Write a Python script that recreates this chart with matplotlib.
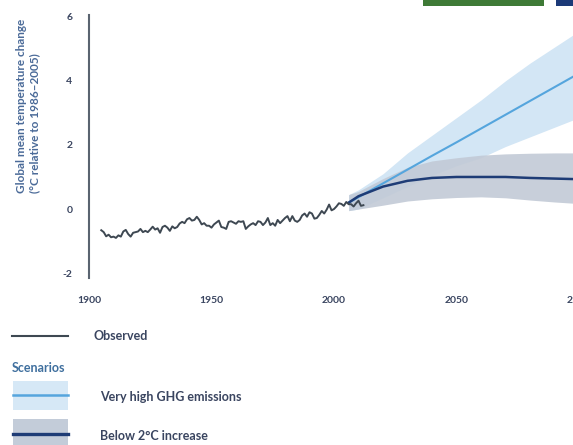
import numpy as np
import matplotlib.pyplot as plt
from matplotlib.patches import Rectangle

# observed annual anomalies (deg C relative to 1986-2005)
obs_years = np.arange(1905, 2013)
obs_vals = [-0.66, -0.72, -0.85, -0.80, -0.88, -0.86, -0.90, -0.82, -0.86, -0.70,
            -0.65, -0.78, -0.86, -0.74, -0.72, -0.70, -0.62, -0.72, -0.68, -0.72,
            -0.64, -0.55, -0.64, -0.60, -0.74, -0.56, -0.52, -0.58, -0.68, -0.54,
            -0.60, -0.56, -0.45, -0.40, -0.44, -0.32, -0.28, -0.36, -0.34, -0.24,
            -0.34, -0.48, -0.44, -0.52, -0.52, -0.58, -0.48, -0.42, -0.36, -0.56,
            -0.58, -0.62, -0.40, -0.38, -0.42, -0.46, -0.38, -0.40, -0.38, -0.62,
            -0.54, -0.48, -0.44, -0.50, -0.38, -0.40, -0.50, -0.42, -0.28, -0.50,
            -0.44, -0.52, -0.34, -0.44, -0.36, -0.28, -0.22, -0.38, -0.22, -0.36,
            -0.40, -0.34, -0.20, -0.14, -0.24, -0.10, -0.14, -0.30, -0.28, -0.18,
            -0.06, -0.14, -0.02, 0.14, -0.04, 0.00, 0.08, 0.18, 0.16, 0.10,
            0.22, 0.15, 0.15, 0.08, 0.18, 0.26, 0.10, 0.12]

# scenario projections
proj_years = [2006, 2010, 2020, 2030, 2040, 2050, 2060, 2070, 2080, 2090, 2100]
high_mean = [0.20, 0.37, 0.80, 1.23, 1.66, 2.08, 2.51, 2.94, 3.37, 3.80, 4.23]
high_upper = [0.45, 0.60, 1.10, 1.75, 2.30, 2.85, 3.40, 4.00, 4.55, 5.05, 5.55]
high_lower = [-0.05, 0.00, 0.35, 0.70, 1.05, 1.35, 1.60, 1.95, 2.25, 2.55, 2.85]
low_mean = [0.20, 0.40, 0.70, 0.88, 0.97, 1.00, 1.00, 1.00, 0.97, 0.95, 0.93]
low_upper = [0.45, 0.55, 0.95, 1.30, 1.50, 1.60, 1.68, 1.72, 1.74, 1.75, 1.75]
low_lower = [-0.05, 0.00, 0.12, 0.25, 0.32, 0.36, 0.38, 0.35, 0.28, 0.22, 0.17]

x_ticks = [1900, 1950, 2000, 2050, 2100]
y_ticks = [-2, 0, 2, 4, 6]

txt_col = '#3a4560'
plt.rcParams['font.family'] = ['Lato', 'DejaVu Sans']
plt.rcParams['axes.unicode_minus'] = False

W, H = 573, 445
fig = plt.figure(figsize=(W / 100, H / 100), dpi=100)

# overlay axes in pixel coords for legend and header boxes
lg = fig.add_axes([0, 0, 1, 1])
lg.set_xlim(0, W)
lg.set_ylim(H, 0)
lg.axis('off')

ax = fig.add_axes([89 / W, 1 - 278 / H, (579 - 89) / W, 263 / H])
ax.set_xlim(1900, 2100)
ax.set_ylim(-2.15, 6.05)

ax.fill_between(proj_years, high_lower, high_upper, color='#d3e6f5', lw=0, zorder=1)
ax.fill_between(proj_years, low_lower, low_upper, color='#c2cad6', alpha=0.9, lw=0, zorder=2)
ax.plot(proj_years, high_mean, color='#55a5dd', lw=1.5, zorder=3)
ax.plot(proj_years, low_mean, color='#1e3c76', lw=1.8, zorder=4)
ax.plot(obs_years, obs_vals, color='#3e4852', lw=1.4, zorder=5)

for s in ['top', 'right', 'bottom']:
    ax.spines[s].set_visible(False)
ax.spines['left'].set_color('#5a6470')
ax.spines['left'].set_linewidth(1.5)
ax.set_xticks(x_ticks)
ax.set_yticks(y_ticks)
ax.tick_params(axis='both', length=0, colors=txt_col, labelsize=7.5)
ax.tick_params(axis='x', pad=13)
ax.tick_params(axis='y', pad=12)
for lab in ax.get_xticklabels() + ax.get_yticklabels():
    lab.set_fontweight('bold')

fig.text(28 / W, 1 - 193 / H,
         'Global mean temperature change\n(°C relative to 1986–2005)',
         rotation=90, ha='center', va='bottom', multialignment='left',
         fontsize=8.5, color='#4a6a98', fontweight='bold', linespacing=1.2)

# header boxes cut off at top
lg.add_patch(Rectangle((423, -2), 121, 8, fc='#3e7a36', ec='none'))
lg.add_patch(Rectangle((556, -2), 20, 8, fc='#1c3a78', ec='none'))

# legend
lg.plot([12, 68], [336, 336], color='#3e4852', lw=1.5)
lg.text(93, 336, 'Observed', fontsize=9, color=txt_col, va='center', fontweight='bold')
lg.text(12, 368, 'Scenarios', fontsize=9, color='#3f6f9e', va='center', fontweight='bold')
lg.add_patch(Rectangle((13, 381), 55, 29, fc='#d6e8f6', ec='none'))
lg.plot([13, 68], [395, 395], color='#55a5dd', lw=1.8)
lg.text(100, 397, 'Very high GHG emissions', fontsize=9, color=txt_col, va='center',
        fontweight='bold')
lg.add_patch(Rectangle((13, 419), 55, 40, fc='#c3ccd9', ec='none'))
lg.plot([13, 68], [434, 434], color='#1e3c76', lw=2.4)
lg.text(100, 436, 'Below 2°C increase', fontsize=9, color=txt_col, va='center',
        fontweight='bold')

fig.savefig('out.png', dpi=100)
